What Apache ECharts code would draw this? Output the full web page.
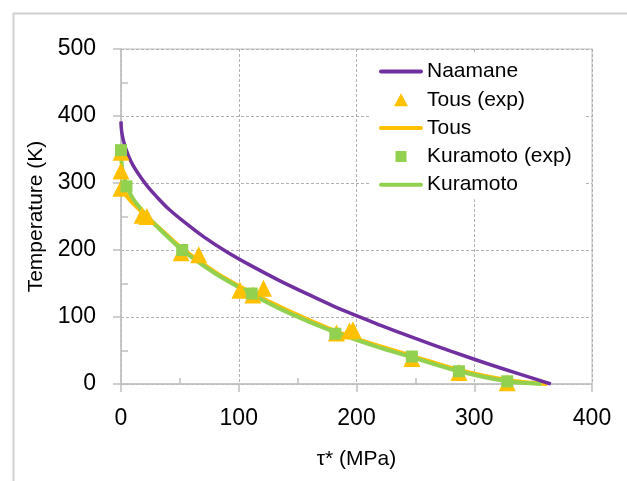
<!DOCTYPE html>
<html>
<head>
<meta charset="utf-8">
<script src="https://cdn.jsdelivr.net/npm/echarts@6/dist/echarts.min.js"></script>
<style>
html,body{margin:0;padding:0;background:#fff;}
#chart{width:627px;height:481px;}
</style>
</head>
<body>
<div id="chart"></div>
<script>
// ---- data ----
const xTicks = [0, 100, 200, 300, 400];
const yTicks = [0, 100, 200, 300, 400, 500];

const naamaneTau = [0, 0.2, 1, 3, 6, 10, 15, 22, 30, 40, 55, 70, 90, 110, 135, 160, 190, 220, 250, 280, 310, 340, 365];
const naamaneT   = [392, 383, 372, 357, 342, 327, 313, 296, 280, 262, 240, 220, 197, 177, 154, 133, 109, 88, 68, 49, 31, 14, 0];

const tousExpTau = [0, 0, 0, 18, 22, 51, 66, 101, 112, 121, 183, 194, 197, 247, 287, 328];
const tousExpT   = [346, 318, 292, 252, 250, 196, 193, 140, 133, 143, 76, 79, 81, 38, 17, 2];

const tousTau = [0, 5, 10, 20, 30, 52, 80, 111, 140, 182, 215, 247, 287, 328, 362];
const tousT   = [295, 280, 270, 253, 237, 202, 167, 136, 111, 79, 59, 42, 21, 6, 0];

const kuraExpTau = [0, 4.6, 52, 111, 182, 247, 287, 328];
const kuraExpT   = [349, 295, 200, 135, 75, 41, 19, 4];

const kuraTau = [0, 1, 4.6, 10, 20, 30, 52, 80, 111, 140, 182, 215, 247, 287, 328, 357];
const kuraT   = [350, 322, 297, 277, 255, 236, 200, 165, 134, 108, 77, 57, 40, 19, 4, 0];

const legendNames = ['Naamane', 'Tous (exp)', 'Tous', 'Kuramoto (exp)', 'Kuramoto'];

function zip(a, b) { return a.map((v, i) => [v, b[i]]); }

const FONT = 'Liberation Sans';
const PURPLE = '#7030A0', YELLOW = '#FFC000', GREEN = '#92D050';

// legend icons: 44x14 boxes (tiny corner segments fix the bounding box)
const CORNERS = 'M0,0 L0.01,0 L0.01,0.01 Z M44,14 L43.99,14 L43.99,13.99 Z ';
const ICON_LINE = 'path://' + CORNERS + 'M2,5 L42,5 A2,2 0 0 1 42,9 L2,9 A2,2 0 0 1 2,5 Z';
const ICON_TRI = 'path://' + CORNERS + 'M15,13.5 L22,0.5 L29,13.5 Z';
const ICON_SQ = 'path://' + CORNERS + 'M16.5,1.5 L27.5,1.5 L27.5,12.5 L16.5,12.5 Z';
const legendIcons = [ICON_LINE, ICON_TRI, ICON_LINE, ICON_SQ, ICON_LINE];

const chart = echarts.init(document.getElementById('chart'), null, {renderer: 'canvas'});
chart.setOption({
  animation: false,
  backgroundColor: '#fff',
  graphic: [{
    type: 'rect', left: 11, top: 11, z: -10,
    shape: {width: 700, height: 600},
    style: {fill: 'none', stroke: '#d0d0d0', lineWidth: 2}
  }],
  grid: {left: 121, right: 35, top: 49, bottom: 97, show: true, borderColor: '#d6d6d6', borderWidth: 1.5, backgroundColor: 'transparent'},
  legend: {
    orient: 'vertical', left: 370, top: 53,
    padding: [8, 13, 4, 9],
    backgroundColor: '#fff',
    itemWidth: 44, itemHeight: 14, itemGap: 7.3,
    symbolKeepAspect: true,
    textStyle: {fontFamily: FONT, fontSize: 21, color: '#000', padding: [0, 0, 0, -1]},
    data: legendNames.map((n, i) => ({name: n, icon: legendIcons[i]})),
    selectedMode: false
  },
  xAxis: {
    type: 'value', min: 0, max: 400, interval: 100,
    name: 'τ* (MPa)', nameLocation: 'middle', nameGap: 65,
    nameTextStyle: {fontFamily: FONT, fontSize: 21, color: '#000'},
    axisLine: {show: true, onZero: false, lineStyle: {color: '#bfbfbf', width: 1.5}},
    axisTick: {show: true, length: 8, lineStyle: {color: '#bfbfbf', width: 1.5}},
    minorTick: {show: true, splitNumber: 2, length: -6, lineStyle: {color: '#bfbfbf', width: 1.5}},
    axisLabel: {fontFamily: FONT, fontSize: 23, color: '#000', margin: 23,
      formatter: v => xTicks.includes(v) ? String(v) : ''},
    splitLine: {show: true, lineStyle: {color: '#b0b0b0', width: 1, type: [3, 2]}}
  },
  yAxis: {
    type: 'value', min: 0, max: 500, interval: 100,
    name: 'Temperature (K)', nameLocation: 'middle', nameGap: 61, nameRotate: 90,
    nameTextStyle: {fontFamily: FONT, fontSize: 21, color: '#000'},
    axisLine: {show: true, onZero: false, lineStyle: {color: '#bfbfbf', width: 1.5}},
    axisTick: {show: true, length: 8, lineStyle: {color: '#bfbfbf', width: 1.5}},
    minorTick: {show: true, splitNumber: 2, length: -7, lineStyle: {color: '#bfbfbf', width: 1.5}},
    axisLabel: {fontFamily: FONT, fontSize: 23, color: '#000', margin: 25,
      formatter: v => yTicks.includes(v) ? String(v) : ''},
    splitLine: {show: true, lineStyle: {color: '#b0b0b0', width: 1, type: [3, 2]}}
  },
  series: [
    {name: 'Tous', type: 'line', data: zip(tousTau, tousT), showSymbol: false, symbol: 'none',
      smooth: 0.3, lineStyle: {color: YELLOW, width: 4}, itemStyle: {color: YELLOW}, z: 2},
    {name: 'Kuramoto', type: 'line', data: zip(kuraTau, kuraT), showSymbol: false, symbol: 'none',
      smooth: 0.3, lineStyle: {color: GREEN, width: 4}, itemStyle: {color: GREEN}, z: 3},
    {name: 'Naamane', type: 'line', data: zip(naamaneTau, naamaneT), showSymbol: false, symbol: 'none',
      smooth: 0.3, lineStyle: {color: PURPLE, width: 3.5}, itemStyle: {color: PURPLE}, z: 4},
    {name: 'Tous (exp)', type: 'scatter', data: zip(tousExpTau, tousExpT), symbol: 'triangle',
      symbolSize: 17, itemStyle: {color: YELLOW, opacity: 1}, z: 5},
    {name: 'Kuramoto (exp)', type: 'scatter', data: zip(kuraExpTau, kuraExpT), symbol: 'rect',
      symbolSize: 12, itemStyle: {color: GREEN, opacity: 1}, z: 6}
  ]
});
</script>
</body>
</html>
